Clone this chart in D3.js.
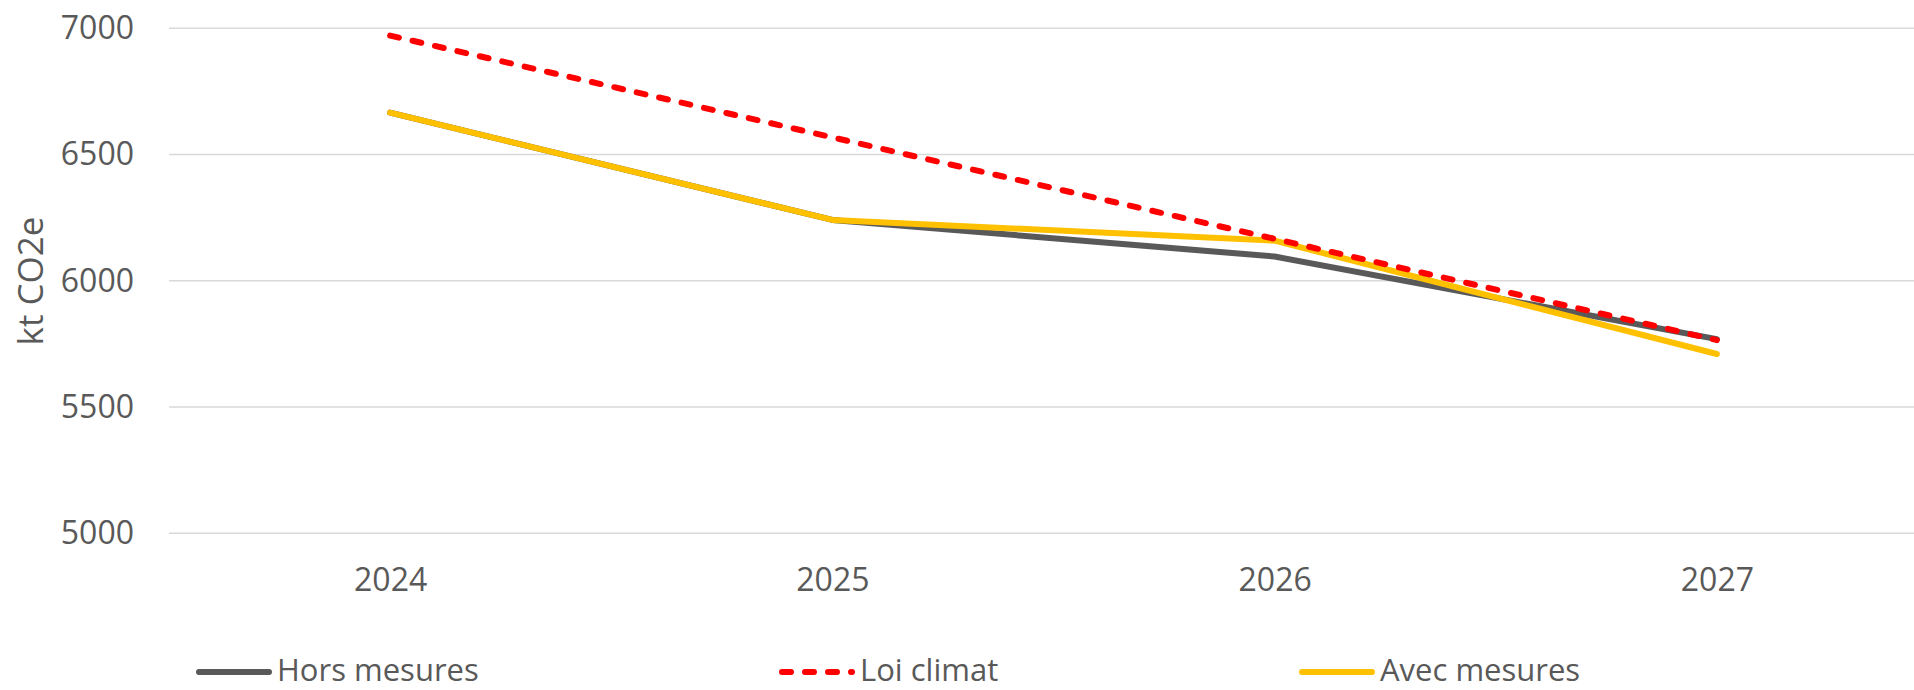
<!DOCTYPE html>
<html>
<head>
<meta charset="utf-8">
<script src="https://cdn.jsdelivr.net/npm/d3@7"></script>
<style>
  body { margin: 0; background: #fff; }
  svg { display: block; font-family: "Open Sans", "Noto Sans", sans-serif; }
</style>
</head>
<body>
<div id="chart"></div>
<script>
// categories and series values (kt CO2e)
var years = ["2024", "2025", "2026", "2027"];
var horsMesures = [6666, 6241, 6096, 5769];
var loiClimat = [6971, 6568, 6166, 5765];
var avecMesures = [6666, 6241, 6159, 5710];
var yTicks = [5000, 5500, 6000, 6500, 7000];
var yTitle = "kt CO2e";

var width = 1914, height = 690;

var svg = d3.select("#chart")
  .append("svg")
  .attr("width", width)
  .attr("height", height);

// scales (plot area runs a bit past the right edge, as in the original)
var x = d3.scalePoint()
  .domain(years)
  .range([169, 1938])
  .padding(0.5);

var y = d3.scaleLinear()
  .domain([5000, 7000])
  .range([533.3, 28.3]);

// gridlines
svg.append("g")
  .selectAll("line")
  .data(yTicks)
  .enter()
  .append("line")
  .attr("x1", 169)
  .attr("x2", width)
  .attr("y1", function (d) { return y(d); })
  .attr("y2", function (d) { return y(d); })
  .attr("stroke", "#d9d9d9")
  .attr("stroke-width", 1.4);

// y axis labels
var yAxis = svg.append("g")
  .attr("transform", "translate(134,0)")
  .call(d3.axisLeft(y).tickValues(yTicks).tickSize(0).tickPadding(0).tickFormat(d3.format("d")));
yAxis.select(".domain").remove();
yAxis.selectAll("text")
  .attr("fill", "#595959")
  .style("font-size", "32px")
  .style("font-family", "'Open Sans', 'Noto Sans', sans-serif");

// x axis labels
var xAxis = svg.append("g")
  .attr("transform", "translate(0,568)")
  .call(d3.axisBottom(x).tickSize(0).tickPadding(0));
xAxis.select(".domain").remove();
xAxis.selectAll("text")
  .attr("fill", "#595959")
  .style("font-size", "32px")
  .style("font-family", "'Open Sans', 'Noto Sans', sans-serif");

// y axis title
svg.append("text")
  .attr("transform", "translate(43,281) rotate(-90)")
  .attr("text-anchor", "middle")
  .attr("fill", "#595959")
  .style("font-size", "35px")
  .text(yTitle);

// series
var series = [
  { name: "Hors mesures", values: horsMesures, color: "#595959", dash: null },
  { name: "Avec mesures", values: avecMesures, color: "#ffc000", dash: null },
  { name: "Loi climat", values: loiClimat, color: "#ff0000", dash: "9,14" }
];

var line = d3.line()
  .x(function (d, i) { return x(years[i]); })
  .y(function (d) { return y(d); });

svg.append("g")
  .selectAll("path")
  .data(series)
  .enter()
  .append("path")
  .attr("d", function (d) { return line(d.values); })
  .attr("fill", "none")
  .attr("stroke", function (d) { return d.color; })
  .attr("stroke-width", 6)
  .attr("stroke-linecap", "round")
  .attr("stroke-linejoin", "round")
  .attr("stroke-dasharray", function (d) { return d.dash; });

// legend
var legendItems = [
  { s: series[0], x: 199 },
  { s: series[2], x: 782 },
  { s: series[1], x: 1302 }
];
var legendY = 672;

var lg = svg.append("g")
  .selectAll("g")
  .data(legendItems)
  .enter()
  .append("g")
  .attr("transform", function (d) { return "translate(" + d.x + "," + legendY + ")"; });

lg.append("line")
  .attr("x1", 0)
  .attr("x2", 70)
  .attr("stroke", function (d) { return d.s.color; })
  .attr("stroke-width", 6)
  .attr("stroke-linecap", "round")
  .attr("stroke-dasharray", function (d) { return d.s.dash; });

lg.append("text")
  .attr("x", 78)
  .attr("y", 9)
  .attr("fill", "#595959")
  .style("font-size", "31px")
  .text(function (d) { return d.s.name; });
</script>
</body>
</html>
